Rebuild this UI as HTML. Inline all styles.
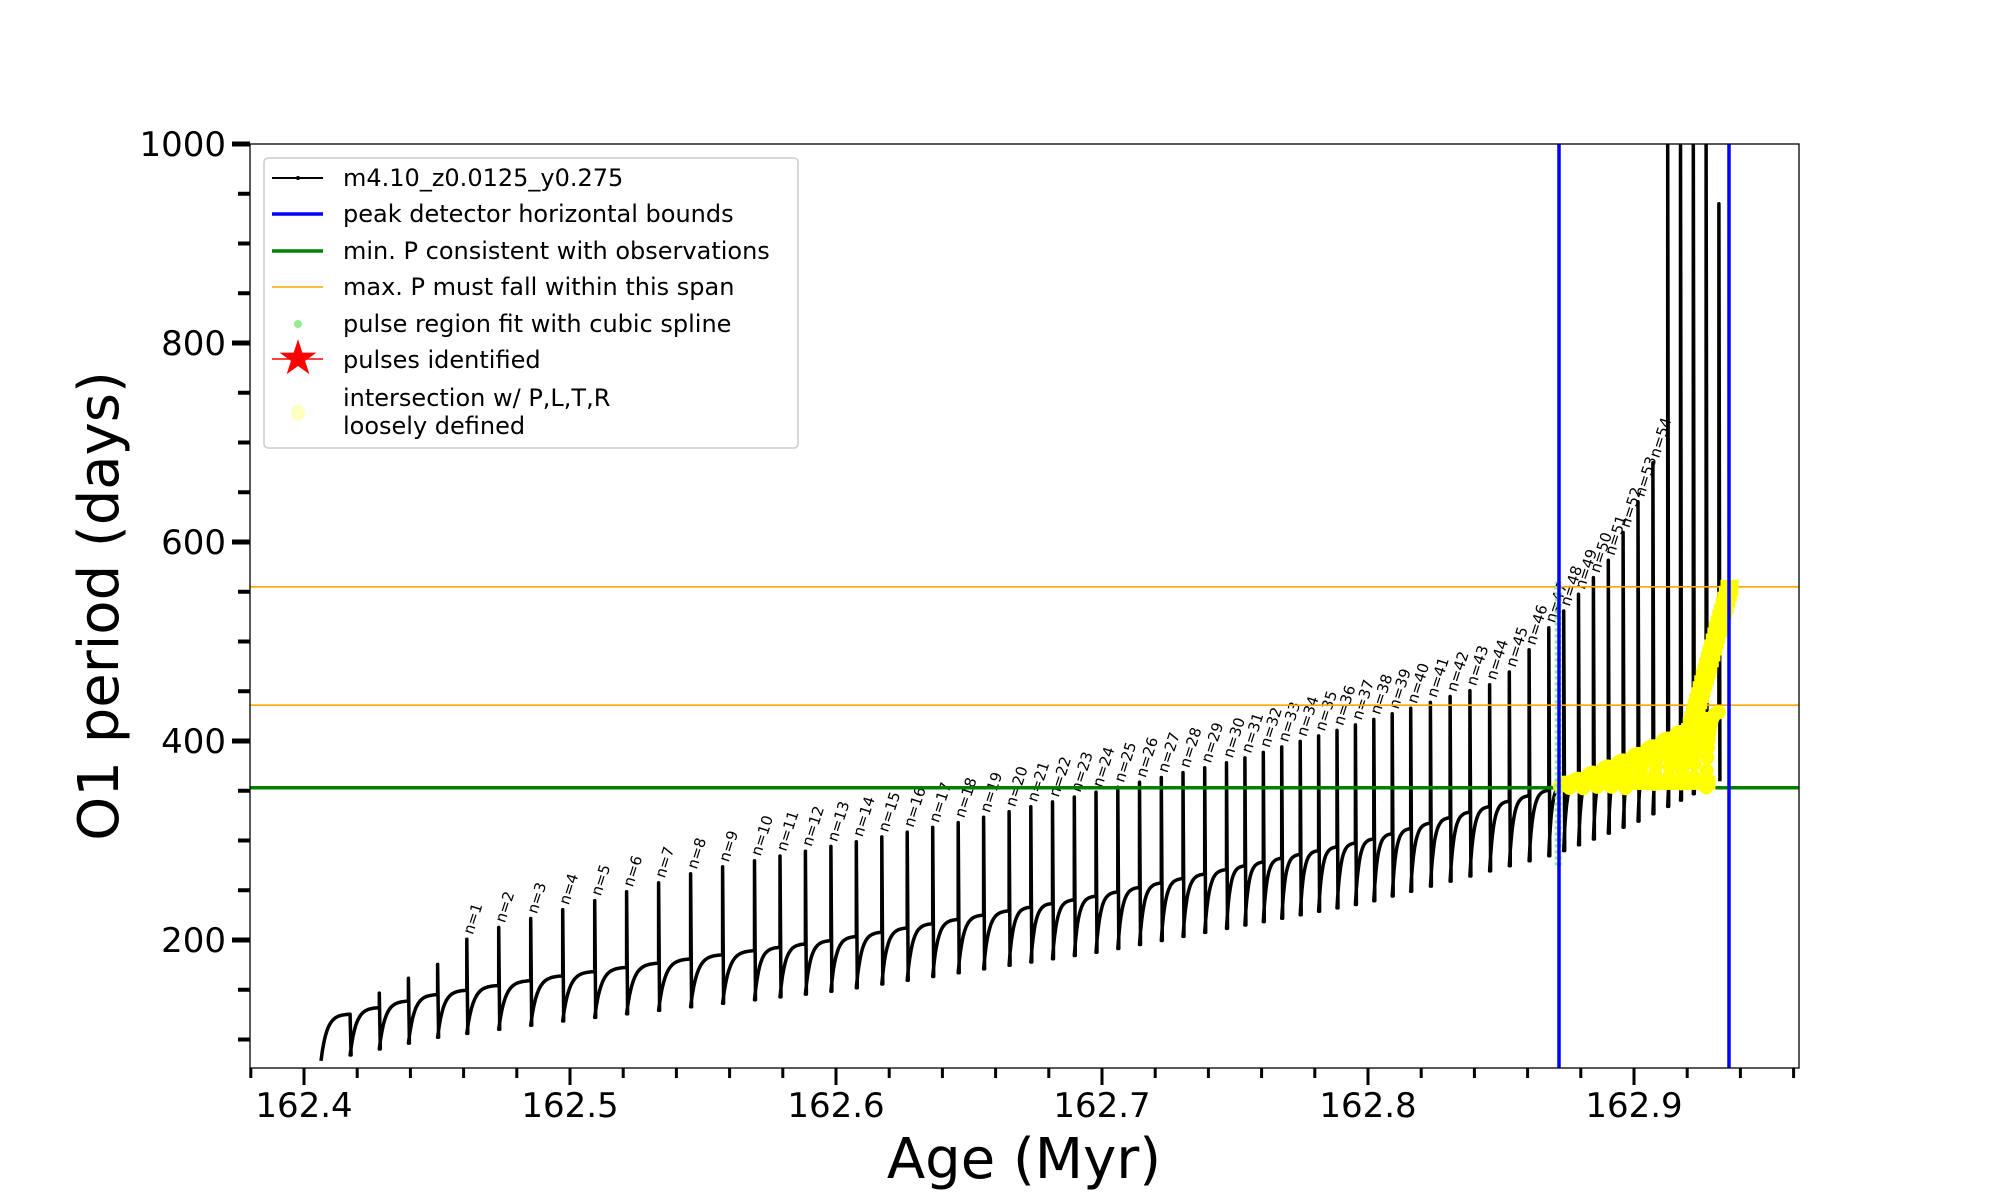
<!DOCTYPE html>
<html><head><meta charset="utf-8"><style>
html,body{margin:0;padding:0;background:#fff;}
svg{display:block;font-family:"DejaVu Sans","Liberation Sans",sans-serif;}
</style></head><body>
<svg id="s" width="2000" height="1200" xmlns="http://www.w3.org/2000/svg"></svg>
<script>
const NS="http://www.w3.org/2000/svg",svg=document.getElementById('s');
function X(t){return 304+(t-162.4)*2660;}
function Y(v){return 144+(1000-v)*0.995;}
function el(n,a,txt){const e=document.createElementNS(NS,n);for(const k in a)e.setAttribute(k,a[k]);if(txt!==undefined)e.textContent=txt;svg.appendChild(e);return e;}
function interp(pts,t){if(t<=pts[0][0])return pts[0][1];for(let i=1;i<pts.length;i++){if(t<=pts[i][0]){const a=pts[i-1],b=pts[i];return a[1]+(b[1]-a[1])*(t-a[0])/(b[0]-a[0]);}}return pts[pts.length-1][1];}
const Hp=[[162.405,118],[162.45,145],[162.5,165],[162.6,200],[162.7,245],[162.8,300],[162.87,352],[162.9,385],[162.94,440]];
const Sp=[[162.41,110],[162.43,150],[162.45,175],[162.463,205],[162.55,270],[162.65,320],[162.75,380],[162.85,460],[162.865,505],[162.89,580],[162.9,630],[162.91,700],[162.913,1100]];
function H(t){return interp(Hp,t);}
function D(t){return H(t)-40-(t-162.4)*55;}
function S(t){return interp(Sp,t);}
const dpts=[[0,252],[5,366],[14,591],[24,790],[34,960],[44,1104],[51,1212],[59,1305],[62,1335],[63,1345]];
let ts=[];for(let p=0;p<=63;p++){const dx=interp(dpts,p);const rx=304+(dx-245)*1.279+8;ts.push(162.4+(rx-304)/2660);}
let d="";const yel=[];
for(let i=0;i<ts.length-1;i++){
  const t0=ts[i],t1=ts[i+1];const dp=D(t0),h=H(t1);
  for(let k=0;k<=20;k++){const f=k/20;const t=t0+(t1-t0)*f;const v=dp+(h-dp)*(1-Math.exp(-f*5))/(1-Math.exp(-5));
    d+=(i==0&&k==0?"M":"L")+X(t).toFixed(1)+" "+Y(v).toFixed(1)+" ";
    if(t>162.872&&v>=352&&v<=560)yel.push([t,v]);}
  let sp=Math.min(S(t1),1010);if(i+1==63)sp=940;
  d+="L"+X(t1).toFixed(1)+" "+Y(sp).toFixed(1)+" L"+(X(t1)+1).toFixed(1)+" "+Y(D(t1)).toFixed(1)+" ";
  const lab=i+1-4;
  if(lab>=1&&lab<=55&&sp<900){
    const lx=X(t1)+6,ly=Y(sp)-4;
    el('text',{x:lx,y:ly,'font-size':15,transform:`rotate(-72 ${lx} ${ly})`},'n='+lab);
  }
}
el('clipPath',{id:'c'});
const cp=svg.lastChild;const r=document.createElementNS(NS,'rect');r.setAttribute('x',250);r.setAttribute('y',144);r.setAttribute('width',1549);r.setAttribute('height',924);cp.appendChild(r);
const g=el('g',{'clip-path':'url(#c)'});
function gel(n,a){const e=document.createElementNS(NS,n);for(const k in a)e.setAttribute(k,a[k]);g.appendChild(e);return e;}
gel('path',{d:d,fill:'none',stroke:'#000','stroke-width':3.5,'stroke-linejoin':'round'});
gel('line',{x1:250,x2:1799,y1:Y(555),y2:Y(555),stroke:'orange','stroke-width':1.6});
gel('line',{x1:250,x2:1799,y1:Y(436),y2:Y(436),stroke:'orange','stroke-width':1.6});
gel('line',{x1:250,x2:1799,y1:Y(353),y2:Y(353),stroke:'green','stroke-width':3.5});
yel.forEach(p=>gel('circle',{cx:X(p[0]),cy:Y(p[1]),r:7,fill:'#ffff00'}));
for(let v=380;v<=555;v+=6){const t=162.918+(v-380)/175*0.018;gel('rect',{x:X(t)-9,y:Y(v)-8,width:18,height:16,fill:'#ffff00'});}
for(let t=162.874;t<162.93;t+=0.002){gel('rect',{x:X(t)-7,y:Y(358)-7,width:14,height:14,fill:'#ffff00'});}
gel('line',{x1:X(162.8715),x2:X(162.8715),y1:Y(275),y2:Y(560),stroke:'#90ee90','stroke-width':7,'stroke-dasharray':'3 3'});
gel('line',{x1:1559,x2:1559,y1:144,y2:1068,stroke:'#0000ff','stroke-width':3.5});
gel('line',{x1:1729,x2:1729,y1:144,y2:1068,stroke:'#0000ff','stroke-width':3.5});
el('rect',{x:250,y:144,width:1549,height:924,fill:'none',stroke:'#000','stroke-width':1.3});
for(let v=100;v<=1000;v+=50){const y=Y(v);const maj=v%200==0;
  el('line',{x1:maj?232:238,x2:250,y1:y,y2:y,stroke:'#000','stroke-width':maj?5:4});
  if(maj)el('text',{x:226,y:y+12,'font-size':34,'text-anchor':'end'},v);}
for(let k=0;k<=29;k++){const t=162.38+k*0.02;const x=X(t);if(x<249||x>1801)continue;const maj=Math.abs(((t-162.4)/0.1)-Math.round((t-162.4)/0.1))<1e-6;
  el('line',{x1:x,x2:x,y1:1068,y2:maj?1085:1078,stroke:'#000','stroke-width':3});
  if(maj&&t<162.95)el('text',{x:x,y:1117,'font-size':34,'text-anchor':'middle'},t.toFixed(1));}
el('text',{x:1024,y:1178,'font-size':56,'text-anchor':'middle'},'Age (Myr)');
el('text',{x:118,y:606,'font-size':56,'text-anchor':'middle',transform:'rotate(-90 118 606)'},'O1 period (days)');
el('rect',{x:264,y:158,width:534,height:290,rx:4,fill:'#fff','fill-opacity':0.85,stroke:'#ccc','stroke-width':1.5});
const ly=[178,214,251,287,324,360];
el('line',{x1:272,x2:323,y1:ly[0],y2:ly[0],stroke:'#000','stroke-width':2});el('circle',{cx:298,cy:ly[0],r:2,fill:'#000'});
el('line',{x1:272,x2:323,y1:ly[1],y2:ly[1],stroke:'#0000ff','stroke-width':3.5});
el('line',{x1:272,x2:323,y1:ly[2],y2:ly[2],stroke:'green','stroke-width':3.5});
el('line',{x1:272,x2:323,y1:ly[3],y2:ly[3],stroke:'orange','stroke-width':1.6});
el('circle',{cx:298,cy:ly[4],r:4,fill:'#90ee90'});
el('text',{x:298,y:ly[5]+14,'font-size':48,'text-anchor':'middle',fill:'red'},'★');
el('line',{x1:272,x2:323,y1:ly[5]-1,y2:ly[5]-1,stroke:'red','stroke-width':1.5});
el('ellipse',{cx:298,cy:413,rx:7,ry:8,fill:'#ffffc0'});
const labs=['m4.10_z0.0125_y0.275','peak detector horizontal bounds','min. P consistent with observations','max. P must fall within this span','pulse region fit with cubic spline','pulses identified'];
labs.forEach((s,i)=>el('text',{x:343,y:ly[i]+8,'font-size':24},s));
el('text',{x:343,y:406,'font-size':24},'intersection w/ P,L,T,R');
el('text',{x:343,y:434,'font-size':24},'loosely defined');
</script>
</body></html>
